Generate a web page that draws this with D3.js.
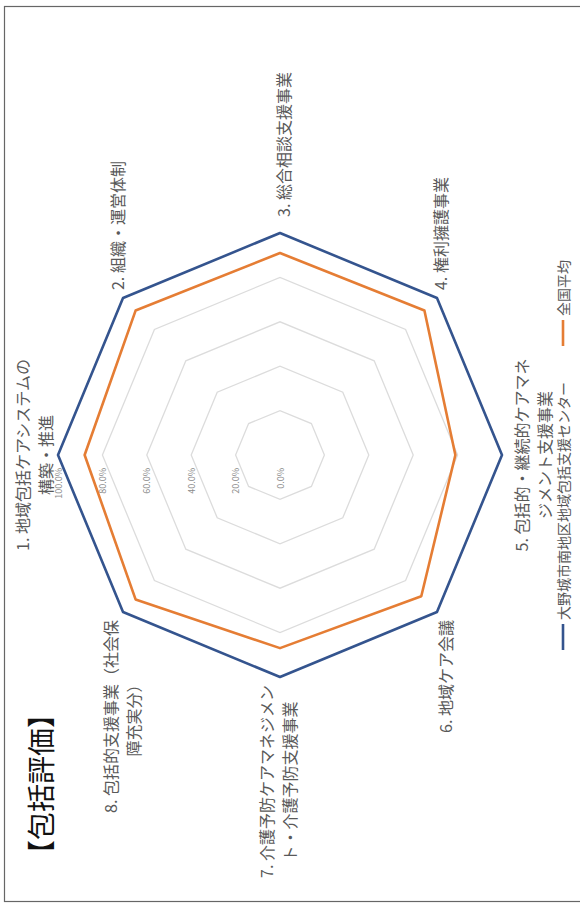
<!DOCTYPE html>
<html>
<head>
<meta charset="utf-8">
<script src="https://cdn.jsdelivr.net/npm/d3@7"></script>
<style>
  body { margin: 0; background: #fff; }
  svg { display: block; }
  text { font-family: "Noto Sans CJK JP", "Noto Sans", sans-serif; }
</style>
</head>
<body>
<svg id="chart" width="580" height="905"></svg>
<script>
// Radar chart data
const categories = [
  ["1. 地域包括ケアシステムの", "構築・推進"],
  ["2. 組織・運営体制"],
  ["3. 総合相談支援事業"],
  ["4. 権利擁護事業"],
  ["5. 包括的・継続的ケアマネ", "ジメント支援事業"],
  ["6. 地域ケア会議"],
  ["7. 介護予防ケアマネジメン", "ト・介護予防支援事業"],
  ["8. 包括的支援事業（社会保", "障充実分）"]
];
const seriesNames = ["大野城市南地区地域包括支援センター", "全国平均"];
const centerValues   = [100, 100, 100, 100, 100, 100, 100, 100];
const nationalValues = [88, 92, 91, 92, 79, 90, 87, 92];
const tickValues = [0, 20, 40, 60, 80, 100];
const tickLabels = ["0.0%", "20.0%", "40.0%", "60.0%", "80.0%", "100.0%"];
const titleText = "【包括評価】";

// Styling
const colors = ["#34548e", "#e57d34"];
const textGray = "#595959";

const svg = d3.select("#chart");

// Frame around the page
svg.append("rect")
  .attr("x", 4.5).attr("y", 6.5)
  .attr("width", 620).attr("height", 895)
  .attr("fill", "none").attr("stroke", "#666").attr("stroke-width", 1.2);

// The chart is laid out landscape (905 x 580) and turned a quarter turn
const W = 905, H = 580;
const g = svg.append("g").attr("transform", `translate(0,${W}) rotate(-90)`);

const cx = 450, cy = 280, R = 222;
const r = d3.scaleLinear().domain([0, 100]).range([0, R]);
const n = categories.length;
const angle = d3.scaleLinear().domain([0, n]).range([0, 2 * Math.PI]);
const pt = (i, v) => [cx + r(v) * Math.sin(angle(i)), cy - r(v) * Math.cos(angle(i))];

// Grid rings
const ringLine = d3.line().curve(d3.curveLinearClosed);
g.append("g").selectAll("path")
  .data(tickValues.filter(t => t > 0))
  .join("path")
  .attr("d", t => ringLine(d3.range(n).map(i => pt(i, t))))
  .attr("fill", "none")
  .attr("stroke", "#dcdcdc")
  .attr("stroke-width", 1.3);

// Value axis labels, beside the first spoke
g.append("g").selectAll("text")
  .data(tickValues)
  .join("text")
  .attr("x", cx - 13)
  .attr("y", t => cy - r(t))
  .attr("text-anchor", "end")
  .attr("dominant-baseline", "central")
  .attr("font-size", 9)
  .attr("fill", "#8a8a8a")
  .text((t, i) => tickLabels[i]);

// Series polygons
[nationalValues, centerValues].forEach((vals, k) => {
  const ci = k === 0 ? 1 : 0;
  g.append("path")
    .attr("d", ringLine(vals.map((v, i) => pt(i, v))))
    .attr("fill", "none")
    .attr("stroke", colors[ci])
    .attr("stroke-width", 2.6)
    .attr("stroke-linejoin", "round");
});

// Category label placement around the outer ring
const labelLayout = [
  { mode: "middle", dx: 0,   dy: -36 },
  { mode: "start",  dx: 8,   dy: -6 },
  { mode: "start",  dx: 16,  dy: 3 },
  { mode: "start",  dx: 8,   dy: 3 },
  { mode: "middle", dx: 0,   dy: 19 },
  { mode: "end",    dx: -8,  dy: 8 },
  { mode: "end",    dx: -8,  dy: -14 },
  { mode: "end",    dx: -8,  dy: -13 }
];
const lineStep = 23;
const labels = g.append("g").attr("font-size", 16).attr("fill", textGray);
categories.forEach((lines, i) => {
  const [vx, vy] = pt(i, 100);
  const L = labelLayout[i];
  const grp = labels.append("g");
  const texts = lines.map((s, j) => grp.append("text")
    .attr("y", vy + L.dy + j * lineStep)
    .attr("dominant-baseline", "central")
    .text(s));
  const widths = texts.map(t => t.node().getComputedTextLength());
  const wMax = d3.max(widths);
  // multi-line blocks keep their lines centred on each other
  let mid;
  if (L.mode === "middle") mid = vx + L.dx;
  else if (L.mode === "start") mid = vx + L.dx + wMax / 2;
  else mid = vx + L.dx - wMax / 2;
  texts.forEach(t => t.attr("x", mid).attr("text-anchor", "middle"));
});

// Title
g.append("text")
  .attr("x", 37).attr("y", 40)
  .attr("dominant-baseline", "central")
  .attr("font-size", 28)
  .attr("fill", "#111")
  .text(titleText);

// Legend along the bottom edge, centred under the chart
const legend = g.append("g").attr("font-size", 14).attr("fill", textGray);
const legY = 563, swatch = 26, gap = 4, itemGap = 36;
const items = seriesNames.map((name, i) => {
  const it = legend.append("g");
  it.append("line")
    .attr("x1", 0).attr("x2", swatch)
    .attr("y1", legY).attr("y2", legY)
    .attr("stroke", colors[i]).attr("stroke-width", 2.6);
  const t = it.append("text")
    .attr("x", swatch + gap).attr("y", legY)
    .attr("dominant-baseline", "central")
    .text(name);
  return { it, w: swatch + gap + t.node().getComputedTextLength() };
});
const total = d3.sum(items, d => d.w) + itemGap * (items.length - 1);
let x0 = cx - total / 2;
items.forEach(d => { d.it.attr("transform", `translate(${x0},0)`); x0 += d.w + itemGap; });
</script>
</body>
</html>
